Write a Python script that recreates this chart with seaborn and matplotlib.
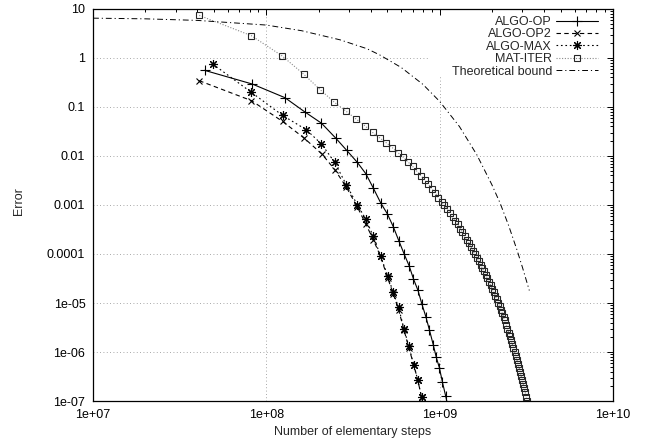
import numpy as np
import matplotlib
matplotlib.use("Agg")
import matplotlib.pyplot as plt
from matplotlib.ticker import LogLocator, FuncFormatter, NullFormatter
from matplotlib.patches import Polygon
import seaborn as sns

# values, steps in units of 1e7
op_steps = [4.4, 8.3, 12.8, 16.7, 20.8, 25.1, 29.1, 33.5, 37.5, 41.5, 45.7, 49.9, 54.0,
            58.2, 62.3, 66.7, 70.6, 75.0, 78.9, 83.3, 87.3, 91.8, 95.5, 99.7, 103.8, 108.2, 112.3]
op_error = [0.56, 0.294, 0.155, 0.079, 0.0467, 0.0233, 0.013, 0.0074, 0.00435, 0.00218, 0.0011,
            6.6e-4, 3.6e-4, 1.84e-4, 1.01e-4, 5.7e-5, 3.1e-5, 1.8e-5, 9.6e-6, 5.2e-6, 2.8e-6,
            1.41e-6, 7.9e-7, 4.7e-7, 2.4e-7, 1.28e-7, 7e-8]

op2_steps = [4.1, 8.2, 12.4, 16.5, 20.9, 24.8, 28.9, 33.5, 37.4, 41.4, 45.6, 50.2, 54.0,
             57.9, 62.2, 66.4, 70.8, 74.7, 78.7, 82.7]
op2_error = [0.344, 0.135, 0.0508, 0.0233, 0.011, 0.0053, 0.00233, 9.1e-4, 4.15e-4, 1.96e-4,
             8.9e-5, 3.2e-5, 1.53e-5, 7.3e-6, 2.85e-6, 1.21e-6, 5.5e-7, 2.7e-7, 1.18e-7, 5e-8]

max_steps = [4.9, 8.2, 12.4, 17.0, 20.8, 24.8, 28.9, 33.5, 37.4, 41.4, 45.6, 50.2, 54.0,
             57.9, 62.2, 66.4, 70.8, 74.7, 78.7, 82.7]
max_error = [0.755, 0.199, 0.0674, 0.0344, 0.0176, 0.0074, 0.0026, 1.01e-3, 5.2e-4, 2.29e-4,
             9.2e-5, 3.5e-5, 1.64e-5, 8.1e-6, 3.0e-6, 1.3e-6, 5.5e-7, 2.7e-7, 1.18e-7, 5e-8]

mat_steps = [4.1, 8.2, 12.3, 16.4, 20.5, 24.6, 28.7, 32.8, 36.9, 41.0, 45.1, 49.2, 53.3,
             57.4, 61.5, 65.6, 69.7, 73.8, 77.9, 82.0, 86.1, 90.2, 94.3, 98.4, 102.5, 106.6,
             110.7, 114.8, 118.9, 123.0, 127.1, 131.2, 135.3, 139.4, 143.5, 147.6, 151.7,
             155.8, 159.9, 164.0, 168.1, 172.2, 176.3, 180.4, 184.5, 188.6, 192.7, 196.8,
             200.9, 205.0, 209.1, 213.2, 217.3, 221.4, 225.5, 229.6, 233.7, 237.8, 241.9,
             246.0, 250.1, 254.2, 258.3, 262.4, 266.5, 270.6, 274.7, 278.8, 282.9, 287.0,
             291.1, 295.2, 299.3, 303.4, 307.5, 311.6, 315.7, 319.8]
mat_error = [7.4, 2.85, 1.11, 0.47, 0.224, 0.126, 0.083, 0.0575, 0.0417, 0.0302, 0.0234,
             0.0186, 0.0148, 0.0117, 0.00955, 0.00759, 0.00617, 0.0049, 0.00398, 0.00324,
             0.00263, 0.00214, 0.00174, 0.00141, 0.00115, 9.8e-4, 8.1e-4, 6.8e-4, 5.8e-4,
             4.8e-4, 4.0e-4, 3.3e-4, 2.8e-4, 2.3e-4, 1.95e-4, 1.66e-4, 1.38e-4, 1.15e-4,
             9.8e-5, 8.3e-5, 7.1e-5, 6.0e-5, 5.1e-5, 4.4e-5, 3.7e-5, 3.2e-5, 2.7e-5, 2.3e-5,
             1.95e-5, 1.66e-5, 1.41e-5, 1.2e-5, 1.02e-5, 8.7e-6, 7.2e-6, 6.2e-6, 5.1e-6,
             4.4e-6, 3.6e-6, 3.0e-6, 2.5e-6, 2.1e-6, 1.74e-6, 1.45e-6, 1.2e-6, 1.0e-6, 8.3e-7,
             6.9e-7, 5.8e-7, 4.8e-7, 4.0e-7, 3.2e-7, 2.7e-7, 2.2e-7, 1.8e-7, 1.5e-7, 1.23e-7,
             1.02e-7]

bound_steps = [1, 2, 4, 10, 16, 26.6, 38, 45, 60, 80, 100, 130, 164, 200, 223, 250, 279, 300, 329]
bound_error = [6.5, 6.3, 5.85, 4.7, 3.6, 2.35, 1.55, 1.16, 0.64, 0.29, 0.13, 0.04, 0.0105,
               0.0026, 0.0011, 3.8e-4, 1.22e-4, 5.4e-5, 1.8e-5]

x_ticks = [1e7, 1e8, 1e9, 1e10]
y_ticks = [1e-7, 1e-6, 1e-5, 1e-4, 1e-3, 1e-2, 1e-1, 1, 10]

unit = 1e7

sns.set_theme(style="white")
plt.rcParams['font.family'] = ['Liberation Sans', 'DejaVu Sans']
plt.rcParams['font.size'] = 9

fig, ax = plt.subplots(figsize=(6.45, 4.43), dpi=100)
fig.subplots_adjust(left=0.1442, right=0.9504, bottom=0.0948, top=0.9797)

sns.lineplot(x=np.array(op_steps) * unit, y=op_error, ax=ax, label="ALGO-OP",
             color="black", lw=0.8, marker="+", ms=7, mec="black", mew=0.8)
sns.lineplot(x=np.array(op2_steps) * unit, y=op2_error, ax=ax, label="ALGO-OP2",
             color="black", lw=0.8, ls=(0, (4, 3)), marker="x", ms=5, mec="black", mew=0.8)
sns.lineplot(x=np.array(max_steps) * unit, y=max_error, ax=ax, label="ALGO-MAX",
             color="black", lw=0.8, ls=(0, (1.5, 2.5)), marker=(8, 2, 0), ms=6.5,
             mec="black", mew=0.8)
sns.lineplot(x=np.array(mat_steps) * unit, y=mat_error, ax=ax, label="MAT-ITER",
             color="#8a8a8a", lw=0.8, ls=(0, (1, 1.5)), marker="s", ms=5, mfc="none",
             mec="#262626", mew=0.8)
sns.lineplot(x=np.array(bound_steps) * unit, y=bound_error, ax=ax, label="Theoretical bound",
             color="black", lw=0.7, ls=(0, (6, 3, 1.2, 3)))

ax.set_xscale("log")
ax.set_yscale("log")
ax.set_xlim(1e7, 1e10)
ax.set_ylim(1e-7, 10)

fmt = FuncFormatter(lambda v, p: "%g" % v)
ax.set_xticks(x_ticks)
ax.set_yticks(y_ticks)
for axis in (ax.xaxis, ax.yaxis):
    axis.set_minor_locator(LogLocator(base=10, subs=np.arange(2, 10), numticks=100))
    axis.set_major_formatter(fmt)
    axis.set_minor_formatter(NullFormatter())

ax.tick_params(which="both", direction="in", top=True, right=True, colors="black",
               labelsize=9, width=0.7)
ax.tick_params(which="major", length=4.5, pad=5.5)
ax.tick_params(which="minor", length=2.2)
for s in ax.spines.values():
    s.set_color("black")
    s.set_linewidth(0.9)

ax.set_axisbelow(True)
ax.grid(True, which="major", color="#8c8c8c", lw=0.6, ls=(0, (1, 3)))

ax.set_xlabel("Number of elementary steps", fontsize=9)
ax.xaxis.set_label_coords(0.5, -0.064)
ax.set_ylabel("Error", fontsize=9)
ax.yaxis.set_label_coords(-0.131, 0.51)

ax.legend(loc="upper right", bbox_to_anchor=(0.971, 0.982), frameon=False, markerfirst=False,
          handlelength=3.36, handletextpad=0.3, labelspacing=0.03, borderpad=0,
          borderaxespad=0, fontsize=9)

# keep grid lines out of the key area, like gnuplot does
fig.canvas.draw()
key_area = Polygon([(0, 0), (1, 0), (1, 0.827), (0.644, 0.827), (0.644, 1), (0, 1)],
                   closed=True, transform=ax.transAxes, facecolor="none", edgecolor="none")
for t in ax.xaxis.get_major_ticks() + ax.yaxis.get_major_ticks():
    t.gridline.set_clip_path(key_area)

fig.savefig("out.png", dpi=100)
